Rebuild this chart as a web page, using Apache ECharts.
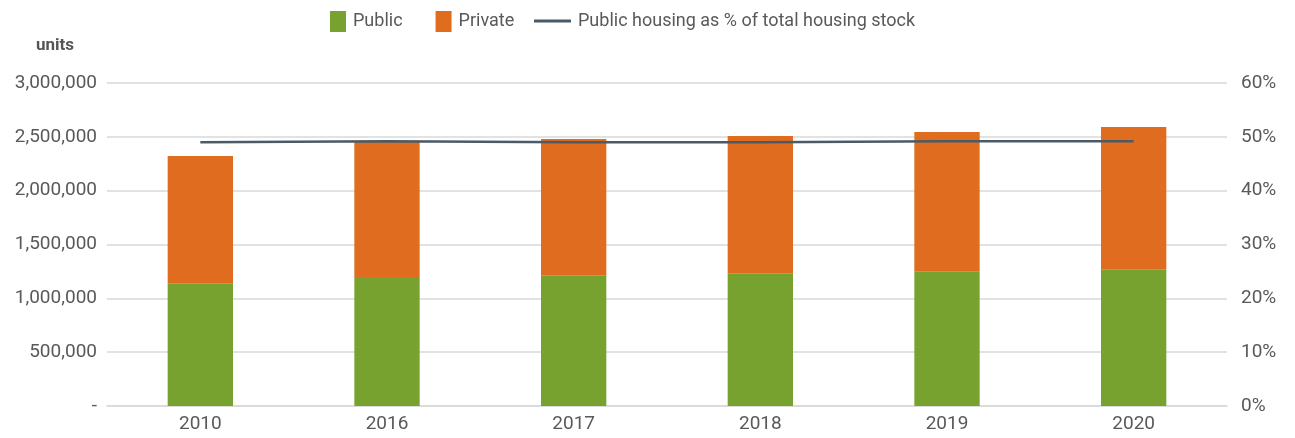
<!DOCTYPE html>
<html>
<head>
<meta charset="utf-8">
<script src="https://cdn.jsdelivr.net/npm/echarts@6/dist/echarts.min.js"></script>
<style>
  html, body { margin: 0; padding: 0; background: #fff; }
  #chart { width: 1295px; height: 438px; }
</style>
</head>
<body>
<div id="chart"></div>
<script>
const years = ['2010', '2016', '2017', '2018', '2019', '2020'];
const publicUnits = [1136000, 1198000, 1210000, 1229000, 1247000, 1266000];
const privateUnits = [1186000, 1257000, 1270000, 1279000, 1298000, 1325000];
const publicShare = [49.0, 49.2, 49.0, 49.0, 49.2, 49.2];

const textColor = '#595959';
const fontFamily = 'Roboto, "Liberation Sans", sans-serif';

const chart = echarts.init(document.getElementById('chart'));

const option = {
  animation: false,
  textStyle: { fontFamily },
  title: {
    text: 'units',
    left: 31,
    top: 32,
    textStyle: { fontFamily, fontSize: 17, fontWeight: 'bold', color: '#555' },
  },
  legend: [
    {
      data: ['Public', 'Private'],
      left: 325,
      top: 6,
      itemWidth: 16,
      itemHeight: 21,
      itemGap: 33,
      icon: 'rect',
      textStyle: { fontFamily, fontSize: 18, color: textColor, padding: [0, 0, 0, 2] },
    },
    {
      data: ['Public housing as % of total housing stock'],
      left: 529,
      top: 7,
      itemWidth: 37,
      itemHeight: 3,
      icon: 'rect',
      textStyle: { fontFamily, fontSize: 18, color: textColor, padding: [0, 0, 0, 2] },
    },
  ],
  grid: { left: 107, right: 68, top: 83, bottom: 32 },
  xAxis: {
    type: 'category',
    data: years,
    axisLine: { lineStyle: { color: '#d9d9d9', width: 1.5 } },
    axisTick: { show: false },
    axisLabel: { color: textColor, fontSize: 19, margin: 9 },
  },
  yAxis: [
    {
      type: 'value',
      min: 0,
      max: 3000000,
      interval: 500000,
      axisLine: { show: false },
      axisTick: { show: false },
      splitLine: { lineStyle: { color: '#d9d9d9', width: 1.5 } },
      axisLabel: {
        color: textColor,
        fontSize: 19,
        margin: 10,
        formatter: v => (v === 0 ? '-' : v.toLocaleString('en-US')),
      },
    },
    {
      type: 'value',
      min: 0,
      max: 60,
      interval: 10,
      axisLine: { show: false },
      axisTick: { show: false },
      splitLine: { show: false },
      axisLabel: { color: textColor, fontSize: 19, margin: 14, formatter: '{value}%' },
    },
  ],
  series: [
    {
      name: 'Public',
      type: 'bar',
      stack: 'units',
      barWidth: '35%',
      data: publicUnits,
      itemStyle: { color: '#78a22f' },
    },
    {
      name: 'Private',
      type: 'bar',
      stack: 'units',
      data: privateUnits,
      itemStyle: { color: '#e06d1f' },
    },
    {
      name: 'Public housing as % of total housing stock',
      type: 'line',
      yAxisIndex: 1,
      data: publicShare,
      symbol: 'none',
      lineStyle: { color: '#4a5a66', width: 2.5 },
      itemStyle: { color: '#4a5a66' },
    },
  ],
};

chart.setOption(option);
</script>
</body>
</html>
